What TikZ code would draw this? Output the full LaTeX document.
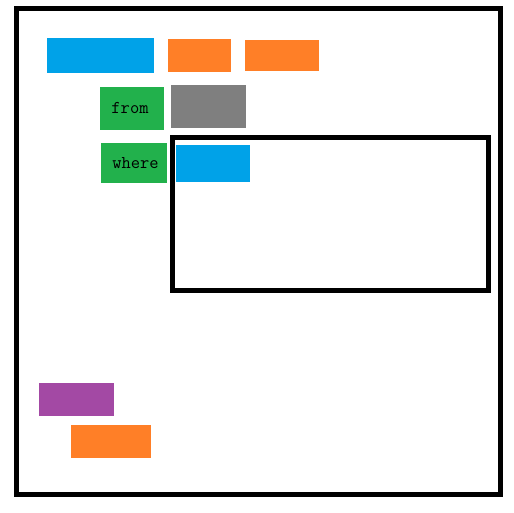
\documentclass[tikz,border=0pt]{standalone}
\usepackage{xcolor}
\usepackage{tikz}

\definecolor{paintblue}{HTML}{00A2E8}
\definecolor{paintorange}{HTML}{FF7F27}
\definecolor{paintgreen}{HTML}{22B14C}
\definecolor{paintgray}{HTML}{7F7F7F}
\definecolor{paintpurple}{HTML}{A349A4}

\begin{document}
\begin{tikzpicture}[
  x=1pt, y=-1pt,
  block/.style={anchor=north west, inner sep=0pt, outer sep=0pt, align=center, font=\ttfamily\fontsize{18}{18}\selectfont},
  frame/.style={draw, line width=5pt, anchor=north west, inner sep=0pt, outer sep=0pt}
]
  \useasboundingbox (0,0) rectangle (514,513);

  \node[frame, minimum width=484pt, minimum height=485pt] (outer) at (16,9) {};
  \node[frame, minimum width=316pt, minimum height=152pt] (inner) at (172.5,138) {};

  \node[block, fill=paintblue, minimum width=107pt, minimum height=35pt] (sel) at (47,38) {};
  \node[block, fill=paintorange, minimum width=63pt, minimum height=33pt] (colA) at (168,39) {};
  \node[block, fill=paintorange, minimum width=74pt, minimum height=31pt] (colB) at (245,40) {};

  \node[block, fill=paintgreen, minimum width=64pt, minimum height=43pt] (from) at (100,87) {\hspace*{-4pt}from};
  \node[block, fill=paintgray, minimum width=75pt, minimum height=43pt] (tbl) at (171,85) {};

  \node[block, fill=paintgreen, minimum width=66pt, minimum height=40pt] (where) at (101,143) {\hspace*{3pt}where};
  \node[block, fill=paintblue, minimum width=74pt, minimum height=37pt] (cond) at (176,145) {};

  \node[block, fill=paintpurple, minimum width=75pt, minimum height=33pt] (grp) at (39,383) {};
  \node[block, fill=paintorange, minimum width=80pt, minimum height=33pt] (ord) at (71,425) {};
\end{tikzpicture}
\end{document}
